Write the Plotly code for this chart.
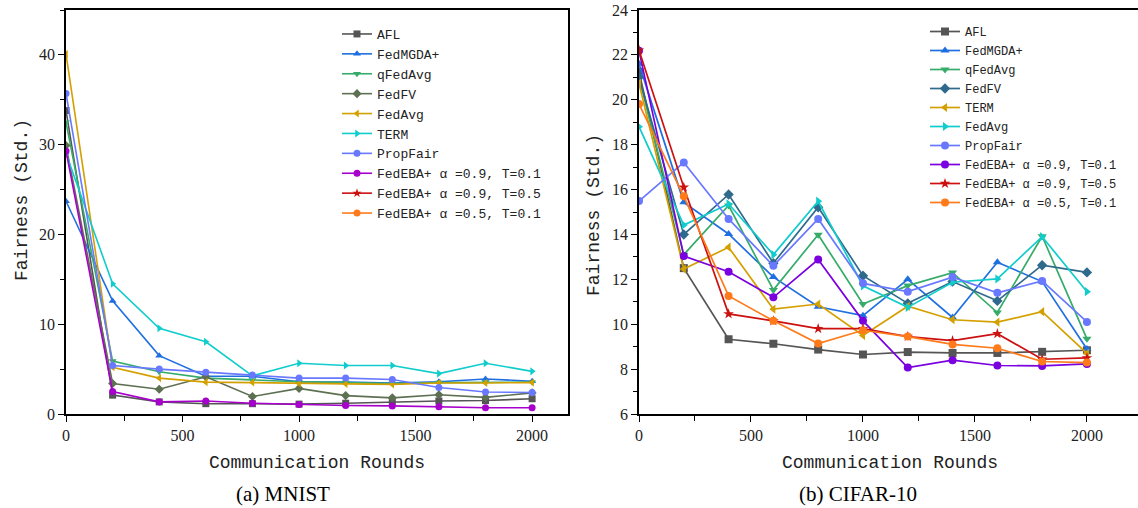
import plotly.graph_objects as go

rounds = [0, 200, 400, 600, 800, 1000, 1200, 1400, 1600, 1800, 2000]

# ---------- (a) MNIST ----------
mnist_names = ["AFL", "FedMGDA+", "qFedAvg", "FedFV", "FedAvg", "TERM", "PropFair",
               "FedEBA+ α =0.9, T=0.1", "FedEBA+ α =0.9, T=0.5", "FedEBA+ α =0.5, T=0.1"]
mnist_afl      = [33.8, 2.1, 1.35, 1.15, 1.15, 1.1, 1.2, 1.35, 1.45, 1.5, 1.7]
mnist_fedmgda  = [23.7, 12.6, 6.5, 4.2, 4.2, 3.6, 3.55, 3.45, 3.6, 3.9, 3.65]
mnist_qfedavg  = [32.5, 5.9, 4.7, 4.0, 3.8, 3.6, 3.5, 3.4, 3.5, 3.55, 3.55]
mnist_fedfv    = [29.9, 3.4, 2.75, 4.15, 1.95, 2.85, 2.05, 1.8, 2.15, 1.85, 2.35]
mnist_fedavg   = [40.1, 5.2, 4.0, 3.55, 3.5, 3.4, 3.35, 3.3, 3.45, 3.45, 3.5]
mnist_term     = [29.0, 14.5, 9.55, 8.05, 4.25, 5.65, 5.4, 5.4, 4.5, 5.65, 4.75]
mnist_propfair = [35.7, 5.4, 5.0, 4.65, 4.35, 4.0, 4.0, 3.85, 2.95, 2.45, 2.4]
mnist_eba_09_01 = [29.3, 2.5, 1.35, 1.45, 1.2, 1.05, 0.95, 0.9, 0.8, 0.7, 0.7]
mnist_eba_09_05 = [None]
mnist_eba_05_01 = [None]

# ---------- (b) CIFAR-10 ----------
cifar_names = ["AFL", "FedMGDA+", "qFedAvg", "FedFV", "TERM", "FedAvg", "PropFair",
               "FedEBA+ α =0.9, T=0.1", "FedEBA+ α =0.9, T=0.5", "FedEBA+ α =0.5, T=0.1"]
cifar_afl      = [21.25, 12.5, 9.33, 9.13, 8.87, 8.65, 8.76, 8.72, 8.72, 8.77, 8.84]
cifar_fedmgda  = [21.6, 15.43, 14.02, 12.1, 10.78, 10.38, 12.0, 10.3, 12.76, 11.9, 8.9]
cifar_qfedavg  = [20.98, 13.1, 15.29, 11.53, 13.99, 10.9, 11.72, 12.3, 10.52, 13.92, 9.35]
cifar_fedfv    = [21.0, 14.0, 15.78, 12.72, 15.21, 12.16, 10.93, 11.9, 11.04, 12.63, 12.31]
cifar_term     = [20.73, 12.46, 13.43, 10.67, 10.9, 9.5, 10.8, 10.2, 10.09, 10.56, 8.7]
cifar_fedavg   = [18.8, 14.42, 15.36, 13.1, 15.48, 11.71, 10.75, 11.87, 12.02, 13.9, 11.45]
cifar_propfair = [15.49, 17.21, 14.69, 12.6, 14.69, 11.82, 11.45, 12.1, 11.4, 11.93, 10.1]
cifar_eba_09_01 = [22.18, 13.04, 12.34, 11.2, 12.88, 10.15, 8.07, 8.4, 8.16, 8.14, 8.23]
cifar_eba_09_05 = [22.21, 16.1, 10.46, 10.15, 9.8, 9.8, 9.45, 9.27, 9.58, 8.44, 8.5]
cifar_eba_05_01 = [19.81, 15.7, 11.26, 10.15, 9.14, 9.73, 9.45, 9.1, 8.93, 8.34, 8.29]

mnist_series = [mnist_afl, mnist_fedmgda, mnist_qfedavg, mnist_fedfv, mnist_fedavg, mnist_term,
                mnist_propfair, mnist_eba_09_01, mnist_eba_09_05, mnist_eba_05_01]
cifar_series = [cifar_afl, cifar_fedmgda, cifar_qfedavg, cifar_fedfv, cifar_term, cifar_fedavg,
                cifar_propfair, cifar_eba_09_01, cifar_eba_09_05, cifar_eba_05_01]

mnist_colors = ["#555555", "#1f6fe0", "#36ab6a", "#5e7052", "#d4a000", "#10cccc", "#6878ff",
                "#a800cc", "#cc1010", "#ff7a1a"]
cifar_colors = ["#555555", "#1f6fe0", "#36ab6a", "#2f6a8c", "#d4a000", "#10cccc", "#6878ff",
                "#7a00e0", "#cc1010", "#ff7a1a"]
mnist_symbols = ["square", "triangle-up", "triangle-down", "diamond", "triangle-left",
                 "triangle-right", "circle", "circle", "star", "circle"]
cifar_symbols = ["square", "triangle-up", "triangle-down", "diamond", "triangle-left",
                 "triangle-right", "circle", "circle", "star", "circle"]

fig = go.Figure()
for name, ys, c, s in zip(mnist_names, mnist_series, mnist_colors, mnist_symbols):
    xs = rounds if ys[0] is not None else [None]
    fig.add_trace(go.Scatter(x=xs, y=ys, name=name, mode="lines+markers",
                             line=dict(color=c, width=1.6),
                             marker=dict(symbol=s, size=7, color=c),
                             xaxis="x", yaxis="y", legend="legend"))
for name, ys, c, s in zip(cifar_names, cifar_series, cifar_colors, cifar_symbols):
    fig.add_trace(go.Scatter(x=rounds, y=ys, name=name, mode="lines+markers",
                             line=dict(color=c, width=1.7),
                             marker=dict(symbol=s, size=8, color=c),
                             xaxis="x2", yaxis="y2", legend="legend2"))

tickfont = dict(family="Liberation Serif", size=16, color="#222222")
axis_common = dict(showline=True, linecolor="black", linewidth=1.6, ticks="outside",
                   ticklen=6, tickwidth=1.4, tickcolor="black", showgrid=False,
                   zeroline=False, tickfont=tickfont, automargin=False)

fig.update_layout(
    width=1138, height=508,
    margin=dict(l=0, r=0, t=0, b=0, autoexpand=False),
    paper_bgcolor="white", plot_bgcolor="white",
    xaxis=dict(domain=[66/1138, 568/1138], range=[0, 2154], anchor="y",
               tickvals=[0, 500, 1000, 1500, 2000], mirror=True,
               minor=dict(dtick=250, tick0=0, ticks="outside", ticklen=5, tickcolor="black"),
               **axis_common),
    yaxis=dict(domain=[94/508, 498/508], range=[0, 45], anchor="x",
               tickvals=[0, 10, 20, 30, 40], mirror=True,
               minor=dict(dtick=5, tick0=0, ticks="outside", ticklen=4, tickcolor="black"),
               **axis_common),
    xaxis2=dict(domain=[639/1138, 1.0], range=[0, 2228], anchor="y2",
                tickvals=[0, 500, 1000, 1500, 2000], mirror=True,
                minor=dict(dtick=250, tick0=0, ticks="outside", ticklen=5, tickcolor="black"),
                **axis_common),
    yaxis2=dict(domain=[94/508, 498/508], range=[6, 24], anchor="x2",
                tickvals=list(range(6, 25, 2)), mirror=False,
                minor=dict(dtick=1, tick0=0, ticks="outside", ticklen=4, tickcolor="black"),
                **axis_common),
    legend=dict(x=337/1138, y=1 - 19/508, xanchor="left", yanchor="top",
                bgcolor="rgba(0,0,0,0)", borderwidth=0,
                font=dict(family="Liberation Mono", size=13, color="#222222"),
                tracegroupgap=0),
    legend2=dict(x=925/1138, y=1 - 17/508, xanchor="left", yanchor="top",
                 bgcolor="rgba(0,0,0,0)", borderwidth=0,
                 font=dict(family="Liberation Mono", size=12, color="#222222"),
                 tracegroupgap=0),
    showlegend=True,
)

title_font = dict(family="Liberation Mono", size=18, color="#222222")
cap_font = dict(family="Liberation Serif", size=21, color="black")
ann = dict(xref="paper", yref="paper", showarrow=False, xanchor="center", yanchor="middle")
fig.add_annotation(text="Fairness (Std.)", x=22/1138, y=1 - 200/508, textangle=-90,
                   font=title_font, **ann)
fig.add_annotation(text="Fairness (Std.)", x=594/1138, y=1 - 215/508, textangle=-90,
                   font=title_font, **ann)
fig.add_annotation(text="Communication Rounds", x=317/1138, y=1 - 463/508, font=title_font, **ann)
fig.add_annotation(text="Communication Rounds", x=890/1138, y=1 - 463/508, font=title_font, **ann)
fig.add_annotation(text="(a) MNIST", x=283/1138, y=1 - 494/508, font=cap_font, **ann)
fig.add_annotation(text="(b) CIFAR-10", x=858/1138, y=1 - 494/508, font=cap_font, **ann)

fig.write_html("out.html", config={"displayModeBar": False},
               post_script="document.body.style.margin='0px';")
